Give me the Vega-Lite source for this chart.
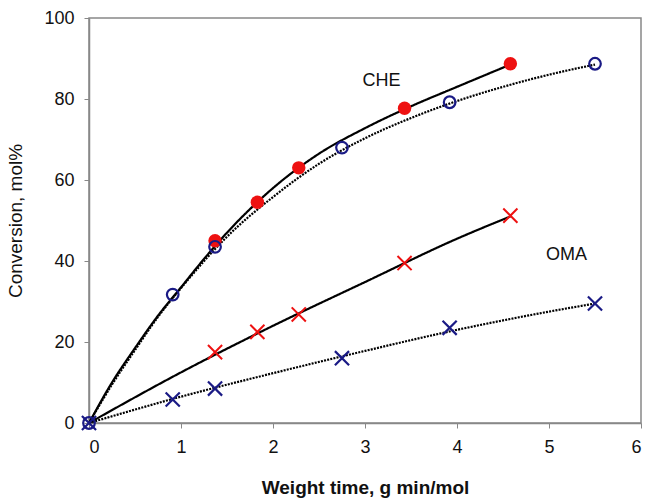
{
  "$schema": "https://vega.github.io/schema/vega-lite/v6.json",
  "width": 552,
  "height": 405,
  "autosize": {"type": "none"},
  "padding": {"left": 89, "top": 18, "right": 8, "bottom": 77},
  "background": "white",
  "config": {
    "view": {"stroke": "#888888", "strokeWidth": 1.5},
    "font": "Liberation Sans",
    "axis": {
      "grid": false,
      "domainColor": "#888888",
      "domainWidth": 1.5,
      "tickColor": "#888888",
      "tickWidth": 1,
      "tickSize": 5,
      "labelFont": "Liberation Sans",
      "labelFontSize": 18,
      "labelColor": "#111111",
      "titleFont": "Liberation Sans",
      "titleColor": "#111111"
    }
  },
  "datasets": {
    "curves": [
      {"t": 0, "conv": 0, "curve": "CHE_solid", "style": "solid"},
      {"t": 0.25, "conv": 10, "curve": "CHE_solid", "style": "solid"},
      {"t": 0.5, "conv": 18.5, "curve": "CHE_solid", "style": "solid"},
      {"t": 0.75, "conv": 26.5, "curve": "CHE_solid", "style": "solid"},
      {"t": 1, "conv": 33.5, "curve": "CHE_solid", "style": "solid"},
      {"t": 1.25, "conv": 40.5, "curve": "CHE_solid", "style": "solid"},
      {"t": 1.5, "conv": 47, "curve": "CHE_solid", "style": "solid"},
      {"t": 2, "conv": 58, "curve": "CHE_solid", "style": "solid"},
      {"t": 2.5, "conv": 66.5, "curve": "CHE_solid", "style": "solid"},
      {"t": 3, "conv": 72.8, "curve": "CHE_solid", "style": "solid"},
      {"t": 3.5, "conv": 78.2, "curve": "CHE_solid", "style": "solid"},
      {"t": 4, "conv": 83, "curve": "CHE_solid", "style": "solid"},
      {"t": 4.58, "conv": 88.5, "curve": "CHE_solid", "style": "solid"},
      {"t": 0, "conv": 0, "curve": "CHE_dot", "style": "dotted"},
      {"t": 0.25, "conv": 9.5, "curve": "CHE_dot", "style": "dotted"},
      {"t": 0.5, "conv": 18, "curve": "CHE_dot", "style": "dotted"},
      {"t": 0.75, "conv": 26.2, "curve": "CHE_dot", "style": "dotted"},
      {"t": 1, "conv": 33.3, "curve": "CHE_dot", "style": "dotted"},
      {"t": 1.5, "conv": 46, "curve": "CHE_dot", "style": "dotted"},
      {"t": 2, "conv": 55.8, "curve": "CHE_dot", "style": "dotted"},
      {"t": 2.5, "conv": 64, "curve": "CHE_dot", "style": "dotted"},
      {"t": 3, "conv": 70.3, "curve": "CHE_dot", "style": "dotted"},
      {"t": 3.5, "conv": 75.3, "curve": "CHE_dot", "style": "dotted"},
      {"t": 4, "conv": 79.5, "curve": "CHE_dot", "style": "dotted"},
      {"t": 4.5, "conv": 83, "curve": "CHE_dot", "style": "dotted"},
      {"t": 5, "conv": 86, "curve": "CHE_dot", "style": "dotted"},
      {"t": 5.5, "conv": 88.5, "curve": "CHE_dot", "style": "dotted"},
      {"t": 0, "conv": 0, "curve": "OMA_solid", "style": "solid"},
      {"t": 1, "conv": 12.5, "curve": "OMA_solid", "style": "solid"},
      {"t": 2, "conv": 24, "curve": "OMA_solid", "style": "solid"},
      {"t": 3, "conv": 34.8, "curve": "OMA_solid", "style": "solid"},
      {"t": 4, "conv": 45.5, "curve": "OMA_solid", "style": "solid"},
      {"t": 4.58, "conv": 51, "curve": "OMA_solid", "style": "solid"},
      {"t": 0, "conv": 0, "curve": "OMA_dot", "style": "dotted"},
      {"t": 1, "conv": 6.5, "curve": "OMA_dot", "style": "dotted"},
      {"t": 2, "conv": 12.3, "curve": "OMA_dot", "style": "dotted"},
      {"t": 3, "conv": 17.8, "curve": "OMA_dot", "style": "dotted"},
      {"t": 4, "conv": 23, "curve": "OMA_dot", "style": "dotted"},
      {"t": 5, "conv": 27.5, "curve": "OMA_dot", "style": "dotted"},
      {"t": 5.5, "conv": 29.5, "curve": "OMA_dot", "style": "dotted"}
    ],
    "points": [
      {"t": 1.37, "conv": 45, "series": "CHE_red"},
      {"t": 1.83, "conv": 54.5, "series": "CHE_red"},
      {"t": 2.28, "conv": 63, "series": "CHE_red"},
      {"t": 3.43, "conv": 77.7, "series": "CHE_red"},
      {"t": 4.58, "conv": 88.7, "series": "CHE_red"},
      {"t": 0, "conv": 0, "series": "CHE_blue"},
      {"t": 0.91, "conv": 31.7, "series": "CHE_blue"},
      {"t": 1.37, "conv": 43.5, "series": "CHE_blue"},
      {"t": 2.75, "conv": 68, "series": "CHE_blue"},
      {"t": 3.92, "conv": 79.2, "series": "CHE_blue"},
      {"t": 5.5, "conv": 88.7, "series": "CHE_blue"},
      {"t": 1.37, "conv": 17.5, "series": "OMA_red"},
      {"t": 1.83, "conv": 22.5, "series": "OMA_red"},
      {"t": 2.28, "conv": 26.8, "series": "OMA_red"},
      {"t": 3.43, "conv": 39.5, "series": "OMA_red"},
      {"t": 4.58, "conv": 51.2, "series": "OMA_red"},
      {"t": 0, "conv": 0, "series": "OMA_blue"},
      {"t": 0.91, "conv": 5.8, "series": "OMA_blue"},
      {"t": 1.37, "conv": 8.5, "series": "OMA_blue"},
      {"t": 2.75, "conv": 16, "series": "OMA_blue"},
      {"t": 3.92, "conv": 23.5, "series": "OMA_blue"},
      {"t": 5.5, "conv": 29.5, "series": "OMA_blue"}
    ],
    "labels": [
      {"t": 3.18, "conv": 84.5, "text": "CHE"},
      {"t": 5.19, "conv": 41.5, "text": "OMA"}
    ]
  },
  "encoding": {
    "x": {
      "field": "t", "type": "quantitative",
      "scale": {"domain": [0, 6], "nice": false},
      "axis": {"values": [0, 1, 2, 3, 4, 5, 6], "title": "Weight time, g min/mol", "titleFontSize": 19, "titleFontWeight": "bold", "titlePadding": 22, "labelPadding": 10}
    },
    "y": {
      "field": "conv", "type": "quantitative",
      "scale": {"domain": [0, 100], "nice": false},
      "axis": {"values": [0, 20, 40, 60, 80, 100], "title": "Conversion, mol%", "titleFontSize": 19, "titleFontWeight": "normal", "titlePadding": 18, "labelPadding": 10}
    }
  },
  "layer": [
    {
      "data": {"name": "curves"},
      "mark": {"type": "line", "color": "black", "strokeWidth": 2.2, "interpolate": "monotone"},
      "encoding": {
        "detail": {"field": "curve"},
        "strokeDash": {"field": "style", "type": "nominal", "scale": {"domain": ["solid", "dotted"], "range": [[1, 0], [2, 1.2]]}, "legend": null}
      }
    },
    {
      "data": {"name": "points"},
      "transform": [{"filter": "datum.series == 'CHE_red'"}],
      "mark": {"type": "point", "shape": "circle", "filled": true, "color": "#ee1111", "size": 180, "opacity": 1}
    },
    {
      "data": {"name": "points"},
      "transform": [{"filter": "datum.series == 'OMA_red'"}],
      "mark": {"type": "point", "shape": "M-1,-1L1,1M1,-1L-1,1", "filled": false, "color": "#ee1111", "size": 200, "strokeWidth": 2, "opacity": 1}
    },
    {
      "data": {"name": "points"},
      "transform": [{"filter": "datum.series == 'CHE_blue'"}],
      "mark": {"type": "point", "shape": "circle", "filled": false, "color": "#1a1a85", "size": 135, "strokeWidth": 2.2, "opacity": 1}
    },
    {
      "data": {"name": "points"},
      "transform": [{"filter": "datum.series == 'OMA_blue'"}],
      "mark": {"type": "point", "shape": "M-1,-1L1,1M1,-1L-1,1", "filled": false, "color": "#1a1a85", "size": 200, "strokeWidth": 2.2, "opacity": 1}
    },
    {
      "data": {"name": "labels"},
      "mark": {"type": "text", "font": "Liberation Sans", "fontSize": 18, "color": "#111111", "align": "center", "baseline": "middle"},
      "encoding": {"text": {"field": "text"}}
    }
  ]
}
